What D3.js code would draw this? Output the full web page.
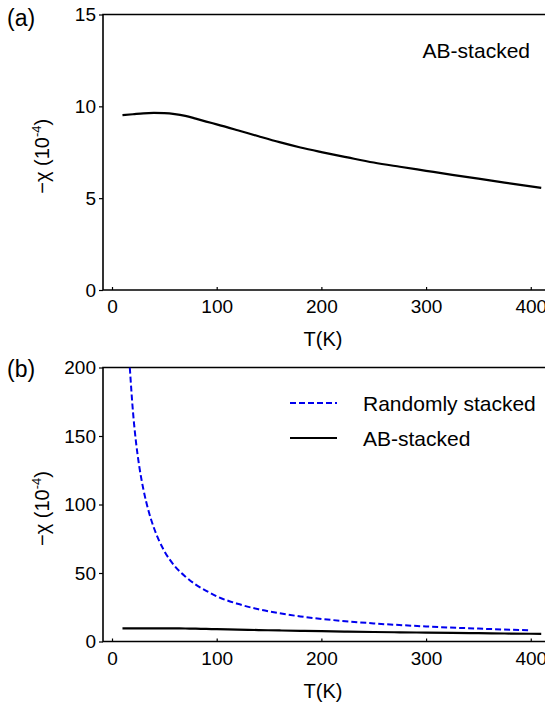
<!DOCTYPE html>
<html><head><meta charset="utf-8">
<script src="https://cdn.jsdelivr.net/npm/d3@7"></script>
<style>
html,body{margin:0;padding:0;background:#fff;}
svg{display:block;}
text{font-family:"Liberation Sans",Arial,Helvetica,sans-serif;fill:#000;}
</style></head>
<body>
<svg id="chart" width="545" height="709"></svg>
<script>
// ---- data ----
const abT   = [10,20,30,40,50,60,70,80,90,100,120,140,160,180,200,225,250,275,300,325,350,375,400,410];
const abChi = [9.52,9.57,9.62,9.64,9.63,9.58,9.48,9.33,9.17,9.02,8.70,8.37,8.05,7.76,7.51,7.22,6.94,6.71,6.49,6.27,6.06,5.85,5.64,5.56];

const rsT   = [17,20,23,26,30,35,40,50,60,70,80,90,100,120,140,160,180,200,250,300,350,398];
const rsChi = [200,168,145,128,111,95,83,66,55,47.5,41.5,37,33,27.5,23.5,20.6,18.3,16.5,13.2,11,9.4,8.2];

const xTicks  = [0,100,200,300,400];
const yTicksA = [0,5,10,15];
const yTicksB = [0,50,100,150,200];
const seriesNames = ["Randomly stacked","AB-stacked"];

// ---- layout ----
const svg = d3.select("#chart");
const left = 103, right = 545;
const x = d3.scaleLinear().domain([-8.6, 413.6]).range([left, right]);

function panel(top, bottom, yDomain, yTicks, tag) {
  const y = d3.scaleLinear().domain(yDomain).range([bottom, top]);
  const g = svg.append("g");
  const clipId = "clip" + tag;
  svg.append("clipPath").attr("id", clipId).append("rect")
    .attr("x", left).attr("y", top).attr("width", right - left + 5).attr("height", bottom - top);

  g.append("path").attr("d", `M${right+5},${top}H${left}V${bottom}H${right+5}`)
    .attr("fill","none").attr("stroke","#000").attr("stroke-width",1.6);

  const xa = d3.axisBottom(x).tickValues(xTicks).tickSizeInner(-3).tickSizeOuter(0).tickPadding(10);
  const gx = g.append("g").attr("transform",`translate(0,${bottom})`).call(xa);
  gx.select(".domain").remove();
  gx.selectAll("line").attr("stroke","#000").attr("stroke-width",1.2);
  gx.selectAll("text").attr("font-size",19).attr("font-family",'"Liberation Sans",Arial,sans-serif');

  const ya = d3.axisLeft(y).tickValues(yTicks).tickSizeInner(4).tickSizeOuter(0).tickPadding(3);
  const gy = g.append("g").attr("transform",`translate(${left},0)`).call(ya);
  gy.select(".domain").remove();
  gy.selectAll("line").attr("stroke","#000").attr("stroke-width",1.2);
  gy.selectAll("text").attr("font-size",19).attr("font-family",'"Liberation Sans",Arial,sans-serif');

  g.append("text").attr("x", 323).attr("y", bottom + 56).attr("text-anchor","middle")
    .attr("font-size",20).text("T(K)");

  const yl = g.append("text").attr("transform",`translate(49,${(top+bottom)/2 + 4}) rotate(-90)`)
    .attr("text-anchor","middle").attr("font-size",20);
  yl.append("tspan").text("\u2212\u03c7 (10");
  yl.append("tspan").attr("font-size",13).attr("dy",-8).text("-4");
  yl.append("tspan").attr("dy",8).text(")");

  return {y, g, clipId};
}

const line = (xs, ys, y) => d3.line().x((d,i)=>x(xs[i])).y((d,i)=>y(ys[i])).curve(d3.curveMonotoneX)(xs);

// ---- panel (a) ----
const A = panel(14.5, 290, [0,15], yTicksA, "a");
A.g.append("path").attr("d", line(abT, abChi, A.y)).attr("clip-path",`url(#${A.clipId})`)
  .attr("fill","none").attr("stroke","#000").attr("stroke-width",2.2);
svg.append("text").attr("x",7).attr("y",26).attr("font-size",23).text("(a)");
svg.append("text").attr("x",530).attr("y",58).attr("text-anchor","end").attr("font-size",21).text("AB-stacked");

// ---- panel (b) ----
const B = panel(367.5, 641.5, [0,200], yTicksB, "b");
B.g.append("path").attr("d", line(rsT, rsChi, B.y)).attr("clip-path",`url(#${B.clipId})`)
  .attr("fill","none").attr("stroke","#0000ee").attr("stroke-width",2).attr("stroke-dasharray","6,3");
B.g.append("path").attr("d", line(abT, abChi, B.y)).attr("clip-path",`url(#${B.clipId})`)
  .attr("fill","none").attr("stroke","#000").attr("stroke-width",2.2);
svg.append("text").attr("x",7).attr("y",377).attr("font-size",23).text("(b)");

// legend
const leg = svg.append("g");
const legY = [403, 438];
leg.append("line").attr("x1",290).attr("x2",337).attr("y1",legY[0]).attr("y2",legY[0])
  .attr("stroke","#0000ee").attr("stroke-width",2).attr("stroke-dasharray","6,3");
leg.append("line").attr("x1",290).attr("x2",337).attr("y1",legY[1]).attr("y2",legY[1])
  .attr("stroke","#000").attr("stroke-width",2.2);
seriesNames.forEach((n,i)=>{
  leg.append("text").attr("x",363).attr("y",legY[i]+7.5).attr("font-size",21).text(n);
});
</script>
</body></html>
